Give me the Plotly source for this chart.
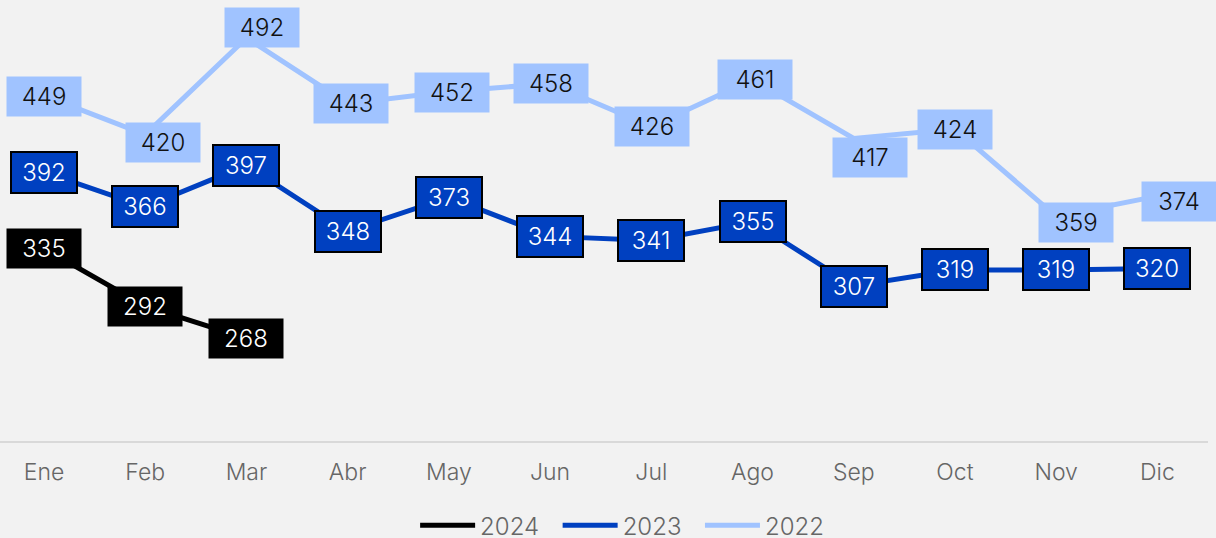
import plotly.graph_objects as go

months = ["Ene", "Feb", "Mar", "Abr", "May", "Jun", "Jul", "Ago", "Sep", "Oct", "Nov", "Dic"]
v2024 = [335, 292, 268]
v2023 = [392, 366, 397, 348, 373, 344, 341, 355, 307, 319, 319, 320]
v2022 = [449, 420, 492, 443, 452, 458, 426, 461, 417, 424, 359, 374]

# label offsets (pixels) for the 2022 labels, avoiding collisions
off2022_x = [0, 18, 16, 3, 3, 1, 1, 2, 16, 0, 20, 22]
off2022_y = [-1, -8, 10, 0, -1, 0, 0, 0, -19, 0, -6, -5]

C24 = "#000000"
C23 = "#0040c0"
C22 = "#a0c3ff"
FONT = "Inter Light, Inter"
W = 300

fig = go.Figure()
series = [("2024\u00a0\u00a0", months[:len(v2024)], v2024, C24),
          ("2023\u00a0\u00a0", months, v2023, C23),
          ("2022", months, v2022, C22)]
for name, xs, ys, col in series:
    fig.add_trace(go.Scatter(x=xs, y=ys, mode="lines", name=name,
                             line=dict(color=col, width=5), hoverinfo="skip"))

annotations = []
for xs, ys, bg, fg, border, w in [(months[:len(v2024)], v2024, C24, "#ffffff", None, 64),
                                  (months, v2023, C23, "#ffffff", "#000000", 54)]:
    for x, y in zip(xs, ys):
        a = dict(x=x, y=y, xref="x", yref="y", text=str(y), showarrow=False,
                 bgcolor=bg, font=dict(family=FONT, size=24, color=fg, weight=W),
                 borderpad=5, width=w, align="center")
        if border:
            a.update(bordercolor=border, borderwidth=2)
        annotations.append(a)
for x, y, dx, dy in zip(months, v2022, off2022_x, off2022_y):
    annotations.append(dict(x=x, y=y, xref="x", yref="y", text=str(y), showarrow=False,
                            bgcolor=C22, font=dict(family=FONT, size=24, color="#111111", weight=W),
                            borderpad=5, width=64, align="center", xshift=dx, yshift=dy))

fig.update_layout(
    width=1216, height=538,
    margin=dict(l=0, r=8, t=0, b=97, autoexpand=False),
    paper_bgcolor="#f2f2f2", plot_bgcolor="#f2f2f2",
    font=dict(family=FONT, size=24, color="#666666", weight=W),
    showlegend=True,
    legend=dict(orientation="h", x=0.515, xanchor="center",
                yref="container", y=0.065, yanchor="top",
                font=dict(family=FONT, size=24, color="#666666", weight=W),
                bgcolor="rgba(0,0,0,0)", itemwidth=55),
    annotations=annotations,
    xaxis=dict(type="category", categoryorder="array", categoryarray=months,
               range=[-0.435, 11.5], showgrid=False, zeroline=False, automargin=False,
               showline=True, linecolor="#d9d9d9", linewidth=2, ticks="",
               ticklabelstandoff=9,
               tickfont=dict(family=FONT, size=23, color="#666666", weight=W)),
    yaxis=dict(range=[191.4, 520.3], showgrid=False, zeroline=False, automargin=False,
               showticklabels=False, showline=False, ticks=""),
)
fig.write_html("out.html", config={"displayModeBar": False},
               post_script="document.body.style.margin='0';document.body.style.background='#f2f2f2';")
